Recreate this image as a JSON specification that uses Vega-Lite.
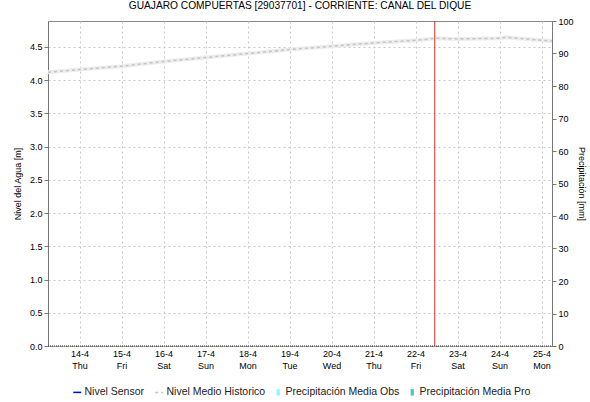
{
  "$schema": "https://vega.github.io/schema/vega-lite/v6.json",
  "autosize": {"type": "none"},
  "width": 504,
  "height": 325,
  "padding": {"left": 48, "top": 21, "right": 38, "bottom": 56},
  "background": "white",
  "title": {"text": "GUAJARO COMPUERTAS [29037701] - CORRIENTE: CANAL DEL DIQUE", "font": "Liberation Sans", "fontSize": 10.2, "fontWeight": "normal", "color": "#000", "offset": 6, "anchor": "middle"},
  "config": {
    "view": {"stroke": "#888", "strokeWidth": 1},
    "axis": {"labelFont": "Liberation Sans", "labelFontSize": 9, "labelColor": "#000", "titleFont": "Liberation Sans", "titleFontSize": 9, "titleFontWeight": "normal", "titleColor": "#000", "domainColor": "#777", "tickColor": "#777", "tickSize": 4, "gridColor": "#c8c8c8", "gridDash": [2, 3]}
  },
  "datasets": {
    "hist": [
      {"t": "2022-04-13T06:00:00", "serie": "Nivel Medio Historico", "v": 4.12},
      {"t": "2022-04-14T00:00:00", "serie": "Nivel Medio Historico", "v": 4.16},
      {"t": "2022-04-15T00:00:00", "serie": "Nivel Medio Historico", "v": 4.21},
      {"t": "2022-04-16T00:00:00", "serie": "Nivel Medio Historico", "v": 4.28},
      {"t": "2022-04-17T00:00:00", "serie": "Nivel Medio Historico", "v": 4.34},
      {"t": "2022-04-18T00:00:00", "serie": "Nivel Medio Historico", "v": 4.40},
      {"t": "2022-04-19T00:00:00", "serie": "Nivel Medio Historico", "v": 4.46},
      {"t": "2022-04-20T00:00:00", "serie": "Nivel Medio Historico", "v": 4.51},
      {"t": "2022-04-21T00:00:00", "serie": "Nivel Medio Historico", "v": 4.56},
      {"t": "2022-04-22T00:00:00", "serie": "Nivel Medio Historico", "v": 4.60},
      {"t": "2022-04-22T12:00:00", "serie": "Nivel Medio Historico", "v": 4.63},
      {"t": "2022-04-23T00:00:00", "serie": "Nivel Medio Historico", "v": 4.62},
      {"t": "2022-04-24T00:00:00", "serie": "Nivel Medio Historico", "v": 4.63},
      {"t": "2022-04-24T04:00:00", "serie": "Nivel Medio Historico", "v": 4.645},
      {"t": "2022-04-25T00:00:00", "serie": "Nivel Medio Historico", "v": 4.60},
      {"t": "2022-04-25T06:00:00", "serie": "Nivel Medio Historico", "v": 4.59}
    ],
    "precip": [
      {"t": "2022-04-13T06:00:00", "p": 0},
      {"t": "2022-04-25T06:00:00", "p": 0}
    ],
    "now": [{"t": "2022-04-22T11:00:00"}]
  },
  "layer": [
    {
      "data": {"name": "hist"},
      "encoding": {
        "x": {"field": "t", "type": "temporal",
              "scale": {"domain": [{"year": 2022, "month": 4, "date": 13, "hours": 6}, {"year": 2022, "month": 4, "date": 25, "hours": 6}]},
              "axis": {"title": null, "grid": true, "tickCount": {"interval": "day", "step": 1}, "labelExpr": "[timeFormat(datum.value, '%-d-%-m'), timeFormat(datum.value, '%a')]", "labelLineHeight": 12, "labelPadding": 3, "tickSize": 0, "domain": false}},
        "y": {"field": "v", "type": "quantitative",
              "scale": {"domain": [0, 4.89], "nice": false, "zero": false},
              "axis": {"title": "Nivel del Agua [m]", "values": [0, 0.5, 1, 1.5, 2, 2.5, 3, 3.5, 4, 4.5], "format": ".1f", "grid": true, "titlePadding": 7, "labelOverlap": false}}
      },
      "layer": [
        {
          "mark": {"type": "line", "color": "#ededed", "strokeWidth": 4}
        },
        {
          "mark": {"type": "line", "strokeWidth": 1.5, "strokeDash": [3, 3]},
          "encoding": {
            "color": {"field": "serie", "type": "nominal",
                      "scale": {"domain": ["Nivel Sensor", "Nivel Medio Historico", "Precipitación Media Obs", "Precipitación Media Pro"], "range": ["#0000ff", "#c4c4c4", "#80ffff", "#40c8c8"]},
                      "legend": {"orient": "none", "legendX": 24, "legendY": 366, "direction": "horizontal", "title": null,
                                 "labelFont": "Liberation Sans", "labelFontSize": 10.5, "labelColor": "#222", "symbolSize": 256, "labelOffset": 2, "columnPadding": 7,
                                 "encode": {"symbols": {"update": {
                                   "shape": {"signal": "datum.index < 2 ? 'M-0.5,0H0.5' : 'M-0.2,-0.4H0.2V0.4H-0.2Z'"},
                                   "strokeDash": {"signal": "datum.index == 1 ? [3,3] : []"},
                                   "strokeWidth": {"signal": "datum.index < 2 ? 1.5 : 0"},
                                   "fill": {"signal": "datum.index == 2 ? '#80ffff' : datum.index == 3 ? '#40c8c8' : 'transparent'"},
                                   "fillOpacity": {"value": 1}
                                 }}}}}
          }
        },
        {
          "data": {"name": "now"},
          "mark": {"type": "rule", "color": "#d83030", "strokeWidth": 1},
          "encoding": {"x": {"field": "t", "type": "temporal"}, "y": null}
        }
      ]
    },
    {
      "data": {"name": "precip"},
      "mark": {"type": "line", "color": "#333", "strokeWidth": 1, "strokeDash": [1, 1]},
      "encoding": {
        "x": {"field": "t", "type": "temporal"},
        "y": {"field": "p", "type": "quantitative",
              "scale": {"domain": [0, 100], "nice": false},
              "axis": {"orient": "right", "title": "Precipitación [mm]", "values": [0, 10, 20, 30, 40, 50, 60, 70, 80, 90, 100], "grid": false, "titlePadding": 3}}
      }
    }
  ],
  "resolve": {"scale": {"y": "independent"}}
}
